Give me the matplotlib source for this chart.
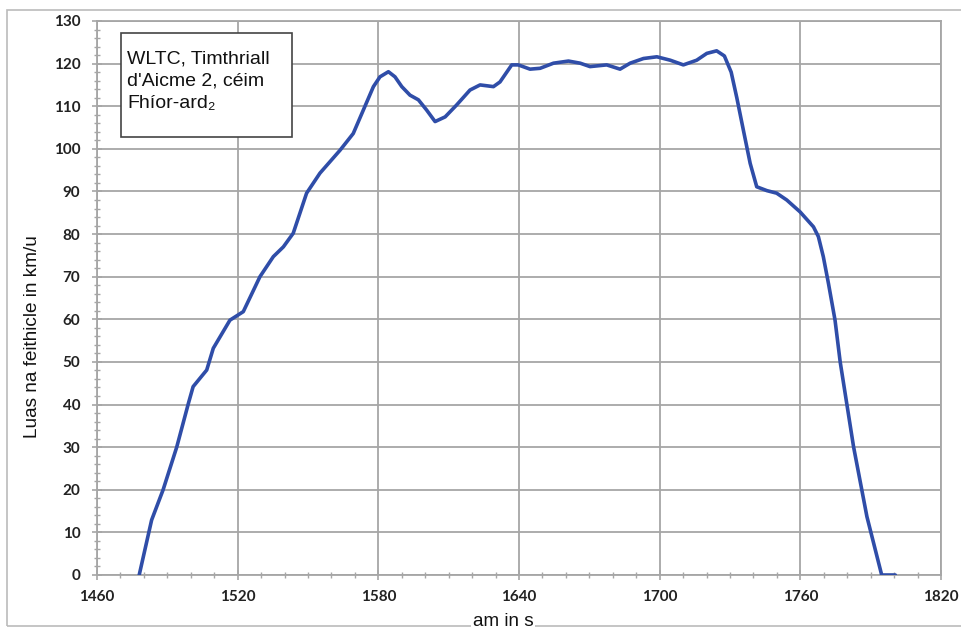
import matplotlib
matplotlib.use("Agg")
import matplotlib.pyplot as plt
from matplotlib.ticker import MultipleLocator
from matplotlib.patches import Rectangle

# Data
time_s = [1478.0, 1483.3, 1488.2, 1494.0, 1499.0, 1501.0, 1506.8, 1509.6, 1516.7,
          1522.4, 1529.5, 1535.2, 1539.5, 1543.7, 1549.4, 1555.1, 1563.7, 1569.3,
          1573.6, 1577.9, 1580.7, 1584.3, 1587.1, 1590.0, 1593.5, 1597.1, 1600.6,
          1604.2, 1608.5, 1613.4, 1619.1, 1623.4, 1629.1, 1631.9, 1636.9, 1639.7,
          1644.7, 1649.0, 1654.7, 1661.1, 1666.1, 1670.3, 1677.4, 1683.1, 1687.4,
          1693.1, 1698.8, 1704.5, 1710.1, 1715.8, 1720.1, 1724.3, 1727.6, 1730.5,
          1732.9, 1735.7, 1738.6, 1741.4, 1745.7, 1749.9, 1754.2, 1759.9, 1765.6,
          1767.7, 1769.8, 1772.0, 1774.8, 1777.0, 1782.7, 1788.4, 1794.7, 1800.5]
speed_kmh = [0, 12.9, 20.0, 30.0, 40.3, 44.2, 48.1, 53.2, 59.8,
             61.8, 70.0, 74.7, 77.0, 80.2, 89.6, 94.3, 99.7, 103.6,
             109.1, 114.6, 116.9, 118.1, 116.9, 114.6, 112.6, 111.5, 109.1,
             106.4, 107.5, 110.3, 113.8, 115.0, 114.6, 115.7, 119.7, 119.7,
             118.7, 118.9, 120.1, 120.6, 120.1, 119.3, 119.7, 118.7, 120.1,
             121.2, 121.6, 120.8, 119.7, 120.8, 122.4, 123.0, 121.8, 118.0,
             112.0, 104.4, 96.6, 91.1, 90.2, 89.6, 88.0, 85.2, 81.7,
             79.4, 74.7, 68.4, 59.8, 50.0, 30.1, 13.7, 0, 0]
x_ticks = [1460, 1520, 1580, 1640, 1700, 1760, 1820]
y_ticks = list(range(0, 131, 10))

box_lines = ["WLTC, Timthriall", "d'Aicme 2, céim", "Fhíor-ard\u2082"]
y_label = "Luas na feithicle in km/u"
x_label = "am in s"

fig = plt.figure(figsize=(9.61, 6.28), dpi=100)
# outer frame
fig.patches.append(Rectangle((7/961, 2/628), 960/961, 616/628, transform=fig.transFigure,
                             fill=False, edgecolor="#BBBBBB", linewidth=1.2))

ax = fig.add_axes([97/961, 1 - 575/628, (941 - 97)/961, (575 - 21)/628])
ax.plot(time_s, speed_kmh, color="#2F4DA8", linewidth=2.6, solid_joinstyle="round",
        solid_capstyle="round", zorder=3)

ax.set_xlim(1460, 1820)
ax.set_ylim(0, 130)
ax.set_xticks(x_ticks)
ax.set_yticks(y_ticks)
ax.xaxis.set_minor_locator(MultipleLocator(10))
ax.yaxis.set_minor_locator(MultipleLocator(2))
ax.grid(True, which="major", color="#A6A6A6", linewidth=1.3)
for s in ax.spines.values():
    s.set_color("#A6A6A6")
    s.set_linewidth(1.3)

ax.tick_params(which="major", direction="inout", length=7, color="#A6A6A6", width=1.2,
               labelcolor="#222222")
ax.tick_params(which="minor", direction="inout", length=5, color="#A6A6A6", width=1.0)
for lab in ax.get_xticklabels() + ax.get_yticklabels():
    lab.set_fontfamily(["Lato", "DejaVu Sans"])
    lab.set_fontweight("bold")
    lab.set_fontsize(11)
ax.tick_params(axis="y", pad=8.5)
ax.tick_params(axis="x", pad=7.5)

fig.text(33/961, 1 - 337/628, y_label, rotation=90, ha="center", va="center",
         fontsize=13.7, family=["Liberation Sans", "DejaVu Sans"], color="#111111")
fig.text(503/961, 1 - 621/628, x_label, ha="center", va="center",
         fontsize=13.6, family=["Liberation Sans", "DejaVu Sans"], color="#111111",
         bbox=dict(facecolor="white", edgecolor="none", pad=1.5))

# text box
fig.patches.append(Rectangle((121/961, 1 - 137/628), (292 - 121)/961, (137 - 33)/628,
                             transform=fig.transFigure, facecolor="white",
                             edgecolor="#444444", linewidth=1.2, zorder=5))
for i, line in enumerate(box_lines):
    fig.text(127/961, 1 - (63 + 22.5 * i)/628, line, ha="left", va="baseline",
             fontsize=14.0, family=["Liberation Sans", "DejaVu Sans"],
             color="#111111", zorder=6)

fig.savefig("out.png", dpi=100)
